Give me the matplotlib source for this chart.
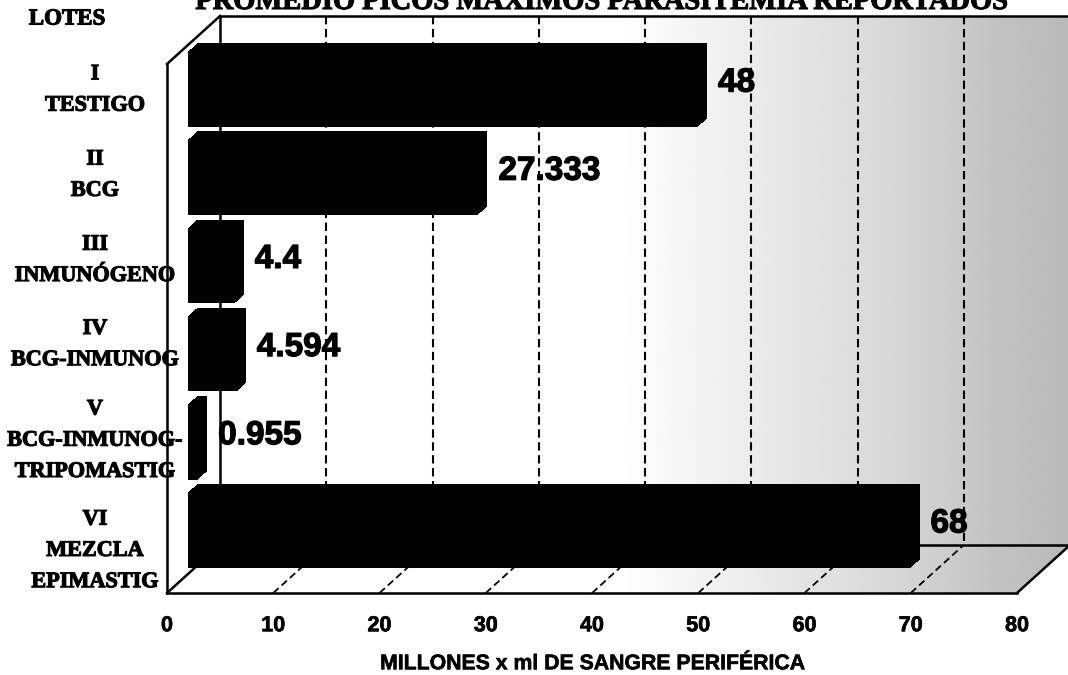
import numpy as np
import matplotlib
matplotlib.use("Agg")
import matplotlib.pyplot as plt
from matplotlib import transforms
from matplotlib import patheffects as pe
from matplotlib.patches import Polygon
from matplotlib.lines import Line2D

# ---- data -------------------------------------------------------------
lotes = ["I\nTESTIGO", "II\nBCG", "III\nINMUNÓGENO", "IV\nBCG-INMUNOG",
         "V\nBCG-INMUNOG-\nTRIPOMASTIG", "VI\nMEZCLA\nEPIMASTIG"]
picos = [48, 27.333, 4.4, 4.594, 0.955, 68]
x_ticks = [0, 10, 20, 30, 40, 50, 60, 70, 80]
titulo = "PROMEDIO PICOS MAXIMOS PARASITEMIA REPORTADOS"
eje_x = "MILLONES x ml DE SANGRE PERIFÉRICA"

# ---- layout (pixels) ----------------------------------------------------
W, H = 1068, 675
X0, X1 = 167, 1017          # front plane, x = 0 and x = 80
YT, YB = 64, 593            # front plane, top and bottom (from top of image)
DX, DY = 53, 48             # depth of the box (right, up)
FRONT = (21, 19)            # bar front face inside the box
THICK = (9, 8)              # bar thickness
label_lift_px = [18, 21, 24, 28, 20, -2]

serif = "Liberation Serif"
sans = "Liberation Sans"


def bold_stroke(w):
    return [pe.withStroke(linewidth=w, foreground="black")]


fig = plt.figure(figsize=(W / 100, H / 100), dpi=100)
fig.patch.set_facecolor("white")

# background layer in pixel coordinates: walls, floor, shading
bg = fig.add_axes([0, 0, 1, 1], zorder=0)
bg.set_xlim(0, W)
bg.set_ylim(H, 0)
bg.axis("off")

back = [(X0 + DX, YT - DY), (X1 + DX, YT - DY), (X1 + DX, YB - DY), (X0 + DX, YB - DY)]
floor = [(X0, YB), (X1, YB), (X1 + DX, YB - DY), (X0 + DX, YB - DY)]
left = [(X0, YT), (X0 + DX, YT - DY), (X0 + DX, YB - DY), (X0, YB)]

xs = np.arange(W + 60)
shade = np.interp(xs, [0, 620, 900, 1000, W + 60], [1.0, 1.0, 0.84, 0.76, 0.70])
grad = np.tile(shade, (8, 1))
for poly in (back, floor):
    patch = Polygon(poly, closed=True, facecolor="none", edgecolor="none")
    bg.add_patch(patch)
    im = bg.imshow(grad, extent=(0, W + 60, H, 0), cmap="gray", vmin=0, vmax=1,
                   aspect="auto", interpolation="bilinear")
    im.set_clip_path(patch)
bg.add_patch(Polygon(left, closed=True, facecolor="white", edgecolor="none"))

edges = [
    [(X0, YT), (X0, YB)],
    [(X0, YT), (X0 + DX, YT - DY)],
    [(X0 + DX, YT - DY), (X1 + DX + 20, YT - DY)],
    [(X0 + DX, YT - DY), (X0 + DX, YB - DY)],
    [(X0, YB), (X1, YB)],
    [(X1, YB), (X1 + DX, YB - DY)],
    [(X0 + DX, YB - DY), (X1 + DX + 20, YB - DY)],
    [(X0, YB), (X0 + DX, YB - DY)],
]
for (xa, ya), (xb, yb) in edges:
    bg.add_line(Line2D([xa, xb], [ya, yb], color="black", lw=1.8,
                       solid_capstyle="projecting"))
bg.set_xlim(0, W)
bg.set_ylim(H, 0)

# ---- data axes: the front plane of the box ------------------------------
ax = fig.add_axes([X0 / W, (H - YB) / H, (X1 - X0) / W, (YB - YT) / H], zorder=1)
ax.set_facecolor("none")
n = len(lotes)
ax.set_xlim(0, 80)
ax.set_ylim(n - 0.5, -0.5)


def shift(dx, dy):
    return transforms.ScaledTranslation(dx / 100, dy / 100, fig.dpi_scale_trans)


# dashed grid on the back wall
ax.vlines(x_ticks[1:-1], -0.5, n - 0.5, colors="black", linestyles=(0, (4, 2.2)),
          lw=1.5, transform=ax.transData + shift(DX, DY), clip_on=False, zorder=1)

# dashed grid on the floor
for v in x_ticks[1:-1]:
    p0 = ax.transData.transform((v, n - 0.5))
    p1 = ax.transData.inverted().transform(p0 + np.array([DX, DY]))
    ax.plot([v, p1[0]], [n - 0.5, p1[1]], color="black", lw=1.3,
            linestyle=(0, (4, 2.2)), clip_on=False, zorder=1)

# solid bars, extruded along the depth direction
steps = 10
for k in range(steps):
    f = k / (steps - 1)
    ax.barh(range(n), picos, height=0.86, left=0, color="black", lw=0,
            transform=ax.transData + shift(FRONT[0] + f * THICK[0], FRONT[1] + f * THICK[1]),
            clip_on=False, zorder=3)

# value labels
for i, v in enumerate(picos):
    ax.text(v, i, f"{v:g}", transform=ax.transData + shift(FRONT[0] + THICK[0] + 11, FRONT[1] + 6),
            ha="left", va="center", fontsize=24, fontweight="bold", family=sans,
            color="black", zorder=4, path_effects=bold_stroke(0.9))

# category labels
lab_tr = transforms.blended_transform_factory(fig.transFigure, ax.transData)
for i, lab in enumerate(lotes):
    ax.text(95 / W, i, lab, transform=lab_tr + shift(0, label_lift_px[i]),
            ha="center", va="center", multialignment="center", fontsize=16,
            fontweight="bold", family=serif, linespacing=1.75,
            path_effects=bold_stroke(0.8))

ax.set_yticks([])
ax.set_xticks(x_ticks)
ax.set_xticklabels([str(t) for t in x_ticks], fontsize=15.5, fontweight="bold", family=sans,
                   path_effects=bold_stroke(0.5))
ax.tick_params(axis="x", length=0, pad=16)
ax.set_xlabel(eje_x, fontsize=15.3, fontweight="bold", family=sans, labelpad=13,
              path_effects=bold_stroke(0.4))
for s in ax.spines.values():
    s.set_visible(False)

fig.text(602 / W, 1 - 9 / H, titulo, ha="center", va="baseline", fontsize=20.5,
         fontweight="bold", family=serif, path_effects=bold_stroke(0.8))
fig.text(67 / W, 1 - 19 / H, "LOTES", ha="center", va="center", fontsize=16.5,
         fontweight="bold", family=serif, path_effects=bold_stroke(0.8))

fig.savefig("out.png", dpi=100, facecolor="white")
